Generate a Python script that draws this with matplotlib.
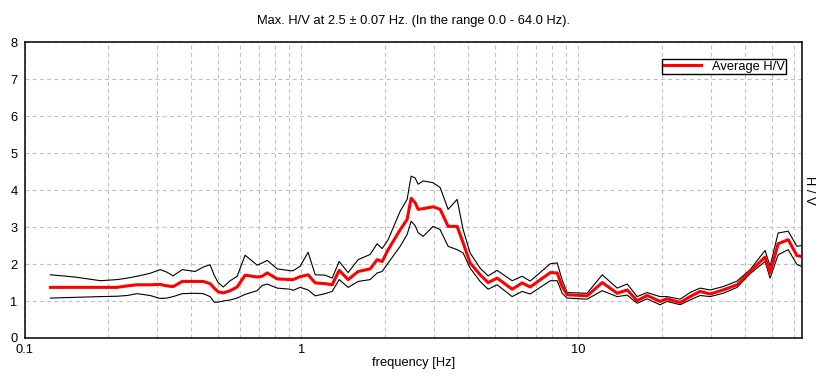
import matplotlib
matplotlib.use("Agg")
import matplotlib.pyplot as plt
from matplotlib.ticker import LogLocator, NullFormatter

plt.rcParams['font.family'] = ['Liberation Sans', 'DejaVu Sans']

freq = [0.124, 0.152, 0.188, 0.216, 0.235, 0.255, 0.284, 0.309, 0.327, 0.344,
        0.371, 0.413, 0.442, 0.468, 0.484, 0.500, 0.522, 0.553, 0.586, 0.626,
        0.692, 0.721, 0.752, 0.817, 0.910, 0.933, 0.989, 1.057, 1.121, 1.218,
        1.291, 1.368, 1.474, 1.602, 1.770, 1.876, 1.956, 2.056, 2.272, 2.407,
        2.489, 2.573, 2.638, 2.750, 2.989, 3.168, 3.385, 3.648, 3.836, 4.064,
        4.417, 4.720, 5.087, 5.765, 6.263, 6.695, 7.920, 8.385, 8.735, 9.106,
        10.75, 12.19, 13.80, 15.0, 16.3, 17.7, 19.7, 20.9, 23.3, 25.3,
        27.5, 29.9, 33.3, 37.4, 41.7, 47.2, 49.2, 52.6, 57.2, 61.5, 63.6]

hv_avg = [1.37, 1.37, 1.37, 1.37, 1.41, 1.44, 1.44, 1.45, 1.41, 1.39,
          1.53, 1.53, 1.53, 1.47, 1.35, 1.25, 1.22, 1.28, 1.38, 1.70,
          1.65, 1.67, 1.76, 1.60, 1.58, 1.58, 1.66, 1.71, 1.49, 1.47,
          1.44, 1.83, 1.58, 1.80, 1.87, 2.12, 2.07, 2.39, 2.93, 3.21,
          3.78, 3.66, 3.48, 3.50, 3.55, 3.48, 3.02, 3.02, 2.57, 2.03,
          1.71, 1.50, 1.62, 1.32, 1.49, 1.38, 1.77, 1.76, 1.39, 1.17,
          1.14, 1.50, 1.21, 1.30, 1.01, 1.15, 0.99, 1.06, 0.96, 1.12,
          1.26, 1.19, 1.30, 1.44, 1.80, 2.19, 1.76, 2.55, 2.66, 2.23, 2.21]

hv_upper = [1.71, 1.65, 1.55, 1.58, 1.62, 1.67, 1.75, 1.85, 1.78, 1.68,
            1.85, 1.80, 1.92, 1.98, 1.70, 1.50, 1.38, 1.55, 1.67, 2.24,
            1.97, 2.03, 2.10, 1.87, 1.82, 1.82, 1.94, 2.32, 1.71, 1.70,
            1.62, 2.07, 1.77, 2.12, 2.26, 2.55, 2.42, 2.66, 3.43, 3.75,
            4.38, 4.33, 4.16, 4.25, 4.20, 4.07, 3.48, 3.75, 2.93, 2.30,
            1.89, 1.68, 1.83, 1.55, 1.67, 1.54, 2.01, 2.03, 1.57, 1.23,
            1.21, 1.71, 1.35, 1.46, 1.12, 1.23, 1.12, 1.12, 1.05, 1.23,
            1.35, 1.30, 1.39, 1.54, 1.85, 2.37, 1.94, 2.84, 2.89, 2.48, 2.50]

hv_lower = [1.08, 1.10, 1.12, 1.13, 1.15, 1.20, 1.15, 1.07, 1.08, 1.12,
            1.20, 1.21, 1.20, 1.12, 0.97, 0.97, 1.00, 1.03, 1.08, 1.18,
            1.28, 1.42, 1.46, 1.35, 1.32, 1.29, 1.37, 1.30, 1.14, 1.20,
            1.26, 1.58, 1.37, 1.53, 1.58, 1.76, 1.80, 2.03, 2.48, 2.80,
            3.16, 3.04, 2.85, 2.75, 3.02, 2.93, 2.48, 2.39, 2.30, 1.89,
            1.53, 1.32, 1.44, 1.12, 1.26, 1.19, 1.55, 1.55, 1.21, 1.08,
            1.05, 1.28, 1.12, 1.16, 0.94, 1.06, 0.90, 0.99, 0.90, 1.03,
            1.15, 1.12, 1.21, 1.37, 1.74, 2.07, 1.62, 2.25, 2.39, 1.99, 1.94]

xticks = [0.1, 1, 10]
xtick_labels = ["0.1", "1", "10"]
yticks = [0, 1, 2, 3, 4, 5, 6, 7, 8]

FS = 9.3

fig = plt.figure(figsize=(8.26, 3.81), dpi=100)
fig.patch.set_facecolor('white')
ax = fig.add_axes([24.5/826, 1-338/381, (801.7-24.5)/826, (338-42.3)/381])

ax.plot(freq, hv_upper, color='black', lw=0.8)
ax.plot(freq, hv_lower, color='black', lw=0.8)
ax.plot(freq, hv_avg, color='#ff0000', lw=2.2, label='Average H/V')

ax.set_xscale('log')
ax.set_xlim(0.1, 64)
ax.set_ylim(0, 8)
ax.set_xticks(xticks)
ax.set_xticklabels(xtick_labels)
ax.xaxis.set_minor_locator(LogLocator(base=10, subs=range(2, 10)))
ax.xaxis.set_minor_formatter(NullFormatter())
ax.set_yticks(yticks)
ax.set_yticklabels([str(v) for v in yticks])
ax.tick_params(which='both', length=0, labelsize=FS)
ax.tick_params(axis='x', pad=4)
ax.tick_params(axis='y', pad=5)

grid_kw = dict(color='#c0c0c0', linestyle=(0, (3.5, 3)), linewidth=0.8)
ax.grid(True, which='major', axis='both', **grid_kw)
ax.grid(True, which='minor', axis='x', **grid_kw)
ax.set_axisbelow(True)

for s in ax.spines.values():
    s.set_linewidth(1.1)
    s.set_color('black')

ax.set_xlabel('frequency [Hz]', fontsize=FS, labelpad=1)
ax.set_title('Max. H/V at 2.5 \u00b1 0.07 Hz. (In the range 0.0 - 64.0 Hz).',
             fontsize=FS, pad=13)

fig.text(809/826, 1-190/381, 'H / V', rotation=270, ha='center', va='center',
         fontsize=FS)

leg = ax.legend(loc='upper right', bbox_to_anchor=(0.980, 0.9435),
                fontsize=FS, frameon=True, fancybox=False, shadow=False,
                handlelength=2.9, handletextpad=0.8, borderpad=0.12,
                borderaxespad=0)
leg.get_frame().set_edgecolor('black')
leg.get_frame().set_linewidth(1.0)
leg.get_frame().set_alpha(1.0)

fig.savefig('out.png', dpi=100)
